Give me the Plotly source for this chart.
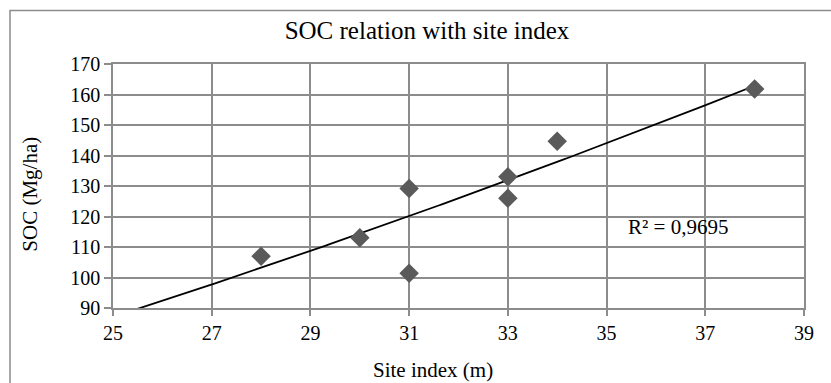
import numpy as np
import plotly.graph_objects as go

# Data
site_index = [28, 30, 31, 31, 33, 33, 34, 38]
soc = [107.0, 113.0, 101.4, 129.2, 126.0, 133.0, 144.7, 161.8]

# Power trendline (y = a * x^b), drawn from x=25 to 38
trend_a = 0.708
trend_b = 1.495
trend_x_start = 25
trend_x_end = 38
r2_text = "R² = 0,9695"

x_ticks = [25, 27, 29, 31, 33, 35, 37, 39]
y_ticks = [90, 100, 110, 120, 130, 140, 150, 160, 170]

FONT = "Liberation Serif"
GRID = "#8c8c8c"

tx = np.linspace(trend_x_start, trend_x_end, 200)
ty = trend_a * tx ** trend_b

fig = go.Figure()
fig.add_trace(go.Scatter(
    x=tx, y=ty, mode="lines",
    line=dict(color="black", width=1.8),
    hoverinfo="skip", showlegend=False,
))
fig.add_trace(go.Scatter(
    x=site_index, y=soc, mode="markers",
    marker=dict(symbol="diamond", size=15, color="#5a5a5a"),
    showlegend=False,
))

tickfont = dict(family=FONT, size=20, color="black")

fig.update_layout(
    width=831, height=383,
    margin=dict(l=113, r=27, t=64, b=75),
    paper_bgcolor="white", plot_bgcolor="white",
    font=dict(family=FONT, color="black", size=20),
    title=dict(text="SOC relation with site index", x=427 / 831, xanchor="center",
               y=1 - 30.5 / 383, yanchor="middle",
               font=dict(family=FONT, size=25, color="black")),
    xaxis=dict(range=[25, 39], tickmode="array", tickvals=x_ticks,
               ticktext=[str(v) for v in x_ticks],
               showgrid=True, gridcolor=GRID, gridwidth=1.5,
               showline=True, linecolor=GRID, linewidth=1.5, mirror=True,
               ticks="outside", ticklen=6, tickcolor=GRID, tickwidth=1.5,
               zeroline=False, tickfont=tickfont),
    yaxis=dict(range=[90, 170], tickmode="array", tickvals=y_ticks,
               ticktext=[str(v) for v in y_ticks],
               showgrid=True, gridcolor=GRID, gridwidth=1.5,
               showline=True, linecolor=GRID, linewidth=1.5, mirror=True,
               ticks="outside", ticklen=7, tickcolor=GRID, tickwidth=1.5,
               zeroline=False, tickfont=tickfont),
    annotations=[
        dict(text="Site index (m)", xref="paper", yref="paper", x=0.4624, y=-0.2556,
             xanchor="center", yanchor="middle", showarrow=False,
             font=dict(family=FONT, size=21, color="black")),
        dict(text="SOC (Mg/ha)", xref="paper", yref="paper", x=-0.1194, y=0.4666,
             xanchor="center", yanchor="middle", showarrow=False, textangle=-90,
             font=dict(family=FONT, size=21, color="black")),
        dict(text=r2_text, xref="x", yref="y", x=36.44, y=116.5,
             xanchor="center", yanchor="middle", showarrow=False,
             font=dict(family=FONT, size=21, color="black")),
    ],
    shapes=[
        dict(type="rect", xref="paper", yref="paper",
             x0=(10 - 113) / 691, x1=(840 - 113) / 691,
             y0=(307.7 - 400) / 243.7, y1=(307.7 - 10.5) / 243.7,
             line=dict(color=GRID, width=1.5), fillcolor="rgba(0,0,0,0)", layer="below"),
    ],
)

fig.write_html("out.html")
